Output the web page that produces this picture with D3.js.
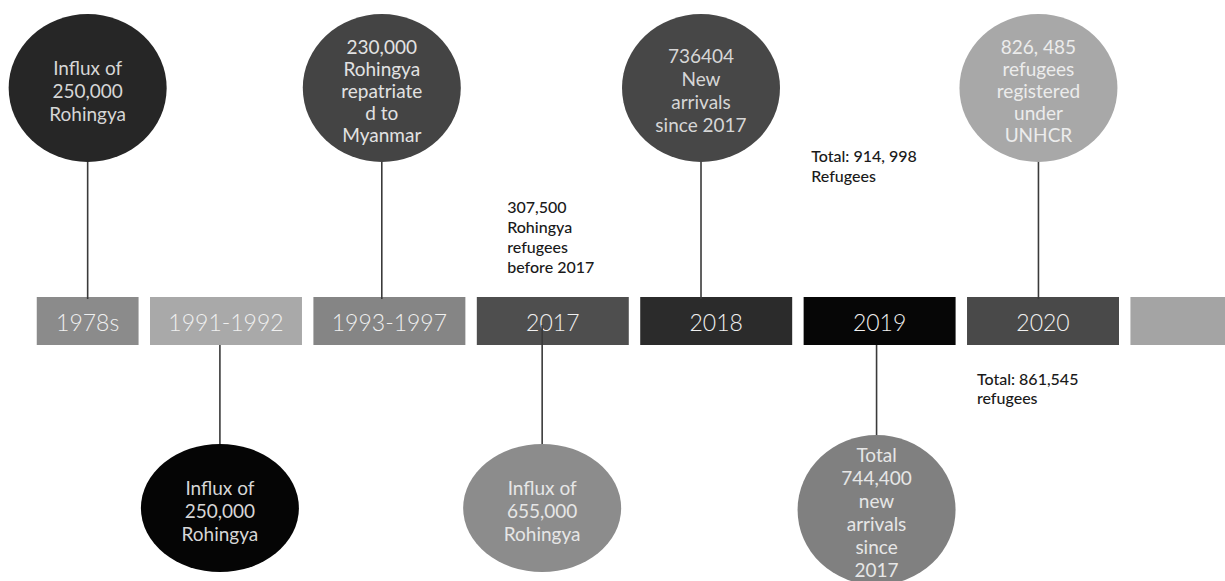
<!DOCTYPE html>
<html>
<head>
<meta charset="utf-8">
<script src="https://cdn.jsdelivr.net/npm/d3@7"></script>
<style>
  html, body { margin: 0; padding: 0; background: #fff; }
  svg { display: block; }
  text { font-family: Lato, "Open Sans", sans-serif; }
</style>
</head>
<body>
<div id="chart"></div>
<script>
// timeline periods (the last box has no label in the source)
var periods = ["1978s", "1991-1992", "1993-1997", "2017", "2018", "2019", "2020", ""];

// events shown in the ellipses, hung above or below a period box
var events = [
  {period: "1978s",     side: "top",    lines: ["Influx of", "250,000", "Rohingya"]},
  {period: "1991-1992", side: "bottom", lines: ["Influx of", "250,000", "Rohingya"]},
  {period: "1993-1997", side: "top",    lines: ["230,000", "Rohingya", "repatriate", "d to", "Myanmar"]},
  {period: "2017",      side: "bottom", lines: ["Influx of", "655,000", "Rohingya"]},
  {period: "2018",      side: "top",    lines: ["736404", "New", "arrivals", "since 2017"]},
  {period: "2019",      side: "bottom", lines: ["Total", "744,400", "new", "arrivals", "since", "2017"]},
  {period: "2020",      side: "top",    lines: ["826, 485", "refugees", "registered", "under", "UNHCR"]}
];

// plain text notes
var notes = [
  {period: "2017", lines: ["307,500", "Rohingya", "refugees", "before 2017"]},
  {period: "2019", lines: ["Total: 914, 998", "Refugees"]},
  {period: "2020", lines: ["Total: 861,545", "refugees"]}
];

// ---- styles / layout ----
var boxFill   = ["#8b8b8b", "#a9a9a9", "#858585", "#4e4e4e", "#2b2b2b", "#060606", "#494949", "#a4a4a4"];
var eventFill = ["#262626", "#050505", "#444444", "#8c8c8c", "#474747", "#808080", "#a8a8a8"];
var eventText = ["#d6d6d6", "#d6d6d6", "#e2e2e2", "#e6e6e6", "#d6d6d6", "#e6e6e6", "#ececec"];
var eventAnchor = [0.5, 0.46, 0.45, 0.43, 0.40, 0.48, 0.47];   // where the stem leaves the box
var noteLayout = [
  {dx: 0.20, y: 213, lh: 20},
  {dx: 0.05, y: 162, lh: 20},
  {dx: 0.065, y: 385, lh: 19}
];

var width = 1225, height = 581;
var boxTop = 297, boxH = 48;

var svg = d3.select("#chart").append("svg")
  .attr("width", width)
  .attr("height", height);

var x = d3.scaleBand()
  .domain(periods)
  .range([-13.4, 1282.4])
  .paddingInner(0.07)
  .paddingOuter(0);
var bw = x.bandwidth();

// the first box is shorter on its left side
function boxX(p, i) { return i === 0 ? x(p) + bw * 0.33 : x(p); }
function boxW(p, i) { return i === 0 ? bw * 0.67 : bw; }

function stemX(d, i) {
  var pi = periods.indexOf(d.period);
  return boxX(d.period, pi) + boxW(d.period, pi) * eventAnchor[i];
}

var boxes = svg.append("g").attr("id", "box_group");
var stems = svg.append("g").attr("id", "stem_group");
var bubbles = svg.append("g").attr("id", "bubble_group");
var noteG = svg.append("g").attr("id", "note_group");

function rx(d) { return 79; }
function ry(d) { return d.side === "top" ? 74 : (d.lines.length > 3 ? 75 : 64); }
function cy(d) { return d.side === "top" ? 88 : (d.lines.length > 3 ? 510 : 508); }

var box = boxes.selectAll(".box")
  .data(periods)
  .enter()
  .append("g")
  .attr("class", "box");

box.append("rect")
  .attr("x", boxX)
  .attr("y", boxTop)
  .attr("width", boxW)
  .attr("height", boxH)
  .style("fill", function(d, i) { return boxFill[i]; });

box.append("text")
  .attr("x", function(d, i) { return boxX(d, i) + boxW(d, i) / 2; })
  .attr("y", boxTop + boxH / 2 + 1)
  .attr("text-anchor", "middle")
  .attr("dominant-baseline", "central")
  .style("fill", "#f0f0f0")
  .style("font-size", "23px")
  .style("font-weight", 300)
  .text(function(d) { return d; });

// the 2017 stem starts inside its box, over the label
stems.selectAll("line")
  .data(events)
  .enter()
  .append("line")
  .attr("x1", stemX)
  .attr("x2", stemX)
  .attr("y1", function(d) { return d.side === "top" ? cy(d) : (d.period === "2017" ? boxTop + 28 : boxTop + boxH); })
  .attr("y2", function(d) { return d.side === "top" ? boxTop + 2 : cy(d); })
  .style("stroke", "#3a3a3a")
  .style("stroke-width", 1.6);

var bubble = bubbles.selectAll(".bubble")
  .data(events)
  .enter()
  .append("g")
  .attr("class", "bubble");

bubble.append("ellipse")
  .attr("cx", stemX)
  .attr("cy", cy)
  .attr("rx", rx)
  .attr("ry", ry)
  .style("fill", function(d, i) { return eventFill[i]; });

bubble.each(function(d, i) {
  var lh = d.lines.length === 5 ? 22 : 23;
  var top = cy(d) - (d.lines.length - 1) * lh / 2 + 2;
  d3.select(this).append("text")
    .attr("text-anchor", "middle")
    .style("fill", eventText[i])
    .style("font-size", "19px")
    .selectAll("tspan")
    .data(d.lines)
    .enter()
    .append("tspan")
    .attr("x", stemX(d, i))
    .attr("y", function(t, j) { return top + j * lh; })
    .attr("dominant-baseline", "central")
    .text(function(t) { return t; });
});

noteG.selectAll("text")
  .data(notes)
  .enter()
  .append("text")
  .style("fill", "#1a1a1a")
  .style("font-size", "16px")
  .style("font-weight", 500)
  .each(function(d, i) {
    var L = noteLayout[i];
    var nx = x(d.period) + bw * L.dx;
    d3.select(this).selectAll("tspan")
      .data(d.lines)
      .enter()
      .append("tspan")
      .attr("x", nx)
      .attr("y", function(t, j) { return L.y + j * L.lh; })
      .text(function(t) { return t; });
  });
</script>
</body>
</html>
